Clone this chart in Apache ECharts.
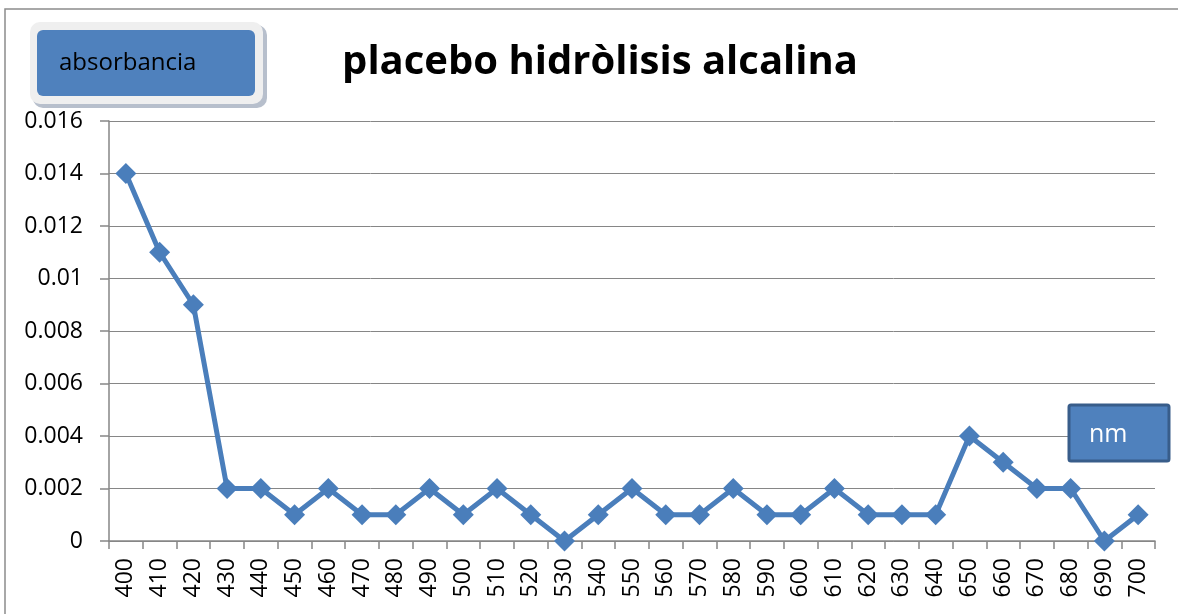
<!DOCTYPE html>
<html><head><meta charset="utf-8">
<script src="https://cdn.jsdelivr.net/npm/echarts@6/dist/echarts.min.js"></script>
<style>html,body{margin:0;padding:0;background:#fff}#c{width:1178px;height:614px}</style>
</head><body><div id="c"></div>
<script>
const categories = ['400','410','420','430','440','450','460','470','480','490','500','510','520','530','540','550','560','570','580','590','600','610','620','630','640','650','660','670','680','690','700'];
const absorbance = [0.014,0.011,0.009,0.002,0.002,0.001,0.002,0.001,0.001,0.002,0.001,0.002,0.001,0,0.001,0.002,0.001,0.001,0.002,0.001,0.001,0.002,0.001,0.001,0.001,0.004,0.003,0.002,0.002,0,0.001];
const yTicks = ['0','0.002','0.004','0.006','0.008','0.01','0.012','0.014','0.016'];
const chartTitle = 'placebo hidròlisis alcalina';
const yName = 'absorbancia';
const xName = 'nm';

const font = '"Open Sans", "Noto Sans", sans-serif';
const chart = echarts.init(document.getElementById('c'));
chart.setOption({
  animation: false,
  backgroundColor: '#fff',
  title: {text: chartTitle, left: 595, top: 38, textAlign: 'center',
    textStyle: {fontFamily: font, fontWeight: 'bold', fontSize: 40, color: '#000'}},
  grid: {left: 109, right: 23, top: 121, bottom: 73},
  xAxis: {type: 'category', data: categories, boundaryGap: true,
    axisLine: {lineStyle: {color: '#868686', width: 1.5}},
    axisTick: {show: true, length: 8, inside: false, lineStyle: {color: '#868686', width: 1.5}},
    axisLabel: {rotate: 90, fontSize: 23, color: '#000', fontFamily: font, margin: 17}},
  yAxis: {type: 'value', min: 0, max: 0.016, interval: 0.002,
    axisLine: {show: true, lineStyle: {color: '#868686', width: 1.5}},
    axisTick: {show: true, length: 9, lineStyle: {color: '#868686', width: 1.5}},
    splitLine: {lineStyle: {color: '#868686', width: 1}},
    axisLabel: {fontSize: 23, color: '#000', fontFamily: font, margin: 26,
      formatter: (v) => yTicks[Math.round(v / 0.002)]}},
  series: [{type: 'line', data: absorbance, symbol: 'diamond', symbolSize: 21,
    lineStyle: {color: '#4a7ebb', width: 5}, itemStyle: {color: '#4a7ebb'}}],
  graphic: [
    {type: 'rect', shape: {x: 5, y: 9, width: 1200, height: 620}, style: {fill: 'none', stroke: '#8c8c8c', lineWidth: 1.5}, z: 0},
    {type: 'rect', shape: {x: 33, y: 25, width: 234, height: 83, r: 10}, style: {fill: '#b7bfcc'}, z: 10},
    {type: 'rect', shape: {x: 30, y: 22, width: 233, height: 82, r: 10}, style: {fill: '#efefef'}, z: 11},
    {type: 'rect', shape: {x: 37, y: 30, width: 218, height: 66, r: 6}, style: {fill: '#4f81bd'}, z: 12},
    {type: 'text', x: 59, y: 63, style: {text: yName, fontSize: 24, fontFamily: font, fill: '#000', verticalAlign: 'middle'}, z: 13},
    {type: 'rect', shape: {x: 1069, y: 405, width: 100, height: 56, r: 2}, style: {fill: '#4f81bd', stroke: '#385d8a', lineWidth: 3}, z: 12},
    {type: 'text', x: 1089, y: 435, style: {text: xName, fontSize: 25, fontFamily: font, fill: '#fff', verticalAlign: 'middle'}, z: 13}
  ]
});
</script></body></html>
